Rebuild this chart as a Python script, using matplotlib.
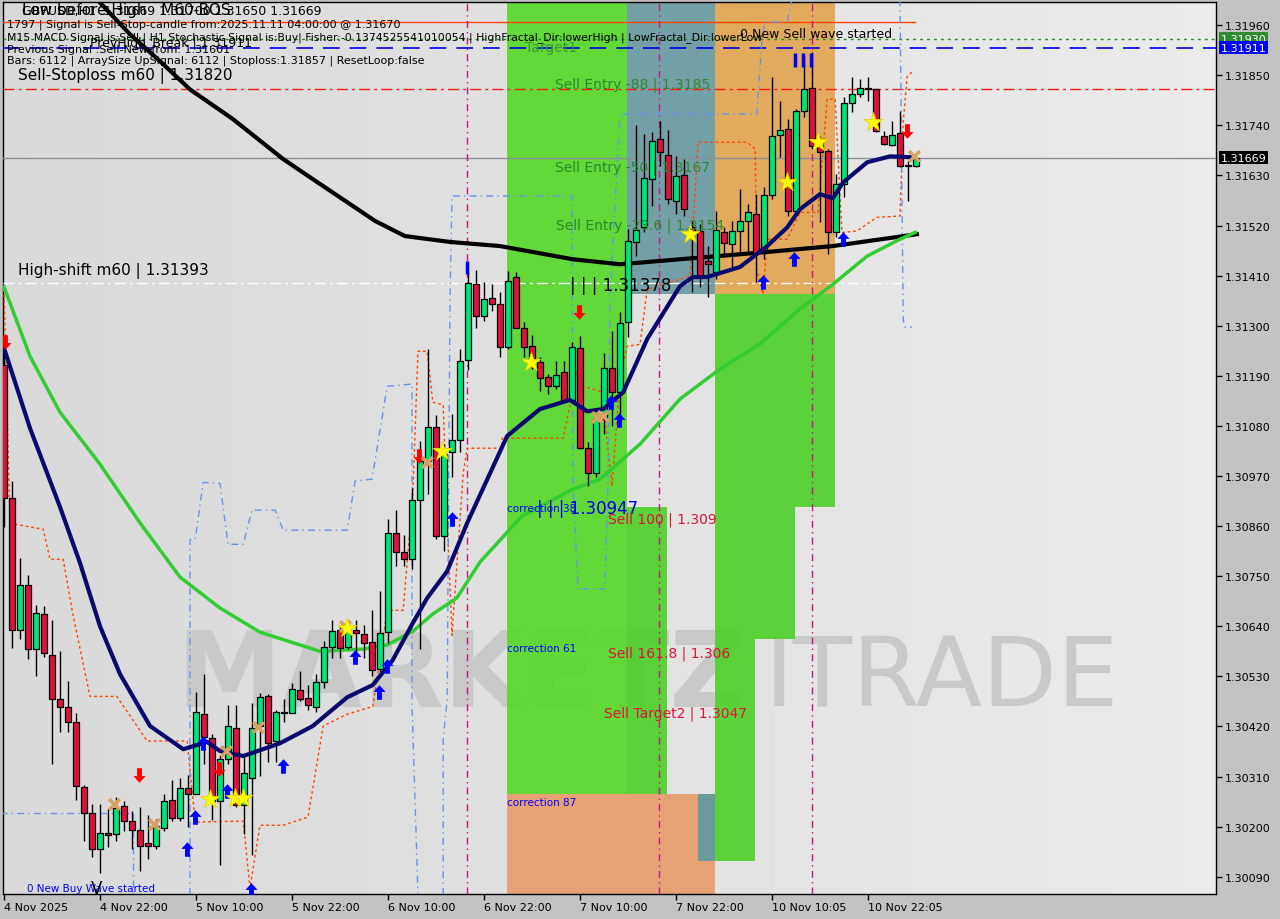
import numpy as np
import matplotlib
matplotlib.use("Agg")
import matplotlib.pyplot as plt
from matplotlib.patches import Rectangle
from matplotlib.path import Path

# ---- candles (H1), bar index = position ----
opens = [1.31213, 1.30921, 1.30631, 1.30730, 1.30590, 1.30667, 1.30577, 1.30480, 1.30462, 1.30429,
         1.30287, 1.30230, 1.30151, 1.30186, 1.30183, 1.30245, 1.30212, 1.30192, 1.30164, 1.30157,
         1.30197, 1.30258, 1.30219, 1.30284, 1.30271, 1.30447, 1.30394, 1.30256, 1.30348, 1.30416,
         1.30247, 1.30306, 1.30421, 1.30486, 1.30388, 1.30449, 1.30449, 1.30500, 1.30482, 1.30462,
         1.30517, 1.30594, 1.30631, 1.30594, 1.30631, 1.30623, 1.30605, 1.30546, 1.30627, 1.30844,
         1.30803, 1.30787, 1.30917, 1.31003, 1.31077, 1.30838, 1.31022, 1.31049, 1.31224, 1.31391,
         1.31321, 1.31361, 1.31347, 1.31253, 1.31407, 1.31295, 1.31255, 1.31220, 1.31187, 1.31167,
         1.31198, 1.31137, 1.31251, 1.31031, 1.30976, 1.31095, 1.31207, 1.31154, 1.31308, 1.31483,
         1.31516, 1.31622, 1.31710, 1.31675, 1.31574, 1.31631, 1.31516, 1.31508, 1.31442, 1.31418,
         1.31505, 1.31479, 1.31508, 1.31530, 1.31545, 1.31466, 1.31587, 1.31718, 1.31732, 1.31552,
         1.31771, 1.31822, 1.31697, 1.31683, 1.31505, 1.31611, 1.31789, 1.31809, 1.31820, 1.31820,
         1.31716, 1.31697, 1.31723, 1.31650, 1.31650]
highs = [1.31260, 1.30959, 1.30789, 1.30752, 1.30686, 1.30684, 1.30653, 1.30585, 1.30519, 1.30449,
         1.30291, 1.30249, 1.30249, 1.30238, 1.30265, 1.30256, 1.30234, 1.30243, 1.30225, 1.30216,
         1.30271, 1.30302, 1.30306, 1.30313, 1.30495, 1.30535, 1.30403, 1.30357, 1.30467, 1.30467,
         1.30352, 1.30471, 1.30493, 1.30491, 1.30456, 1.30480, 1.30515, 1.30541, 1.30511, 1.30535,
         1.30607, 1.30653, 1.30642, 1.30653, 1.30653, 1.30642, 1.30675, 1.30717, 1.30875, 1.30895,
         1.30840, 1.30943, 1.31047, 1.31248, 1.31104, 1.31040, 1.31106, 1.31248, 1.31420, 1.31422,
         1.31396, 1.31391, 1.31374, 1.31420, 1.31418, 1.31308, 1.31279, 1.31231, 1.31194, 1.31222,
         1.31222, 1.31264, 1.31277, 1.31044, 1.31106, 1.31240, 1.31288, 1.31330, 1.31512, 1.31740,
         1.31721, 1.31725, 1.31749, 1.31729, 1.31672, 1.31666, 1.31530, 1.31523, 1.31475, 1.31552,
         1.31516, 1.31530, 1.31600, 1.31567, 1.31589, 1.31604, 1.31846, 1.31793, 1.31754, 1.31776,
         1.31892, 1.31901, 1.31716, 1.31688, 1.31633, 1.31802, 1.31846, 1.31841, 1.31846, 1.31820,
         1.31727, 1.31749, 1.31771, 1.31661, 1.31672]
lows = [1.30858, 1.30592, 1.30612, 1.30568, 1.30530, 1.30572, 1.30337, 1.30407, 1.30407, 1.30258,
        1.30168, 1.30133, 1.30098, 1.30155, 1.30168, 1.30190, 1.30151, 1.30102, 1.30129, 1.30151,
        1.30190, 1.30212, 1.30212, 1.30199, 1.30271, 1.30337, 1.30214, 1.30115, 1.30337, 1.30243,
        1.30183, 1.30137, 1.30311, 1.30341, 1.30341, 1.30429, 1.30449, 1.30476, 1.30456, 1.30451,
        1.30504, 1.30570, 1.30570, 1.30590, 1.30570, 1.30570, 1.30531, 1.30539, 1.30603, 1.30772,
        1.30772, 1.30765, 1.30590, 1.30930, 1.30831, 1.30805, 1.30967, 1.31022, 1.31202, 1.31295,
        1.31310, 1.31332, 1.31231, 1.31248, 1.31295, 1.31231, 1.31205, 1.31156, 1.31150, 1.31161,
        1.31132, 1.31132, 1.31029, 1.30948, 1.30967, 1.31062, 1.31080, 1.31091, 1.31275, 1.31453,
        1.31505, 1.31563, 1.31650, 1.31567, 1.31545, 1.31541, 1.31374, 1.31385, 1.31363, 1.31402,
        1.31457, 1.31424, 1.31457, 1.31457, 1.31396, 1.31446, 1.31578, 1.31670, 1.31541, 1.31549,
        1.31758, 1.31688, 1.31527, 1.31457, 1.31494, 1.31582, 1.31769, 1.31802, 1.31793, 1.31725,
        1.31697, 1.31694, 1.31648, 1.31573, 1.31648]
closes = [1.30921, 1.30631, 1.30730, 1.30590, 1.30669, 1.30581, 1.30480, 1.30462, 1.30429, 1.30289,
          1.30230, 1.30151, 1.30186, 1.30181, 1.30240, 1.30212, 1.30192, 1.30157, 1.30157, 1.30201,
          1.30256, 1.30219, 1.30284, 1.30271, 1.30451, 1.30397, 1.30256, 1.30348, 1.30421, 1.30247,
          1.30317, 1.30416, 1.30484, 1.30383, 1.30451, 1.30451, 1.30502, 1.30480, 1.30467, 1.30517,
          1.30594, 1.30629, 1.30592, 1.30627, 1.30625, 1.30603, 1.30544, 1.30625, 1.30844, 1.30803,
          1.30787, 1.30917, 1.31003, 1.31077, 1.30838, 1.31018, 1.31049, 1.31222, 1.31393, 1.31321,
          1.31358, 1.31347, 1.31253, 1.31398, 1.31295, 1.31253, 1.31220, 1.31185, 1.31167, 1.31192,
          1.31134, 1.31253, 1.31031, 1.30976, 1.31095, 1.31207, 1.31154, 1.31306, 1.31486, 1.31510,
          1.31624, 1.31705, 1.31681, 1.31578, 1.31628, 1.31556, 1.31508, 1.31407, 1.31435, 1.31510,
          1.31481, 1.31508, 1.31530, 1.31550, 1.31459, 1.31587, 1.31716, 1.31729, 1.31552, 1.31771,
          1.31820, 1.31694, 1.31681, 1.31505, 1.31611, 1.31789, 1.31809, 1.31822, 1.31817, 1.31727,
          1.31699, 1.31718, 1.31650, 1.31652, 1.31669]

tick_bars = [0, 12, 24, 36, 48, 60, 72, 84, 96, 108]
tick_labels = ["4 Nov 2025", "4 Nov 22:00", "5 Nov 10:00", "5 Nov 22:00", "6 Nov 10:00",
               "6 Nov 22:00", "7 Nov 10:00", "7 Nov 22:00", "10 Nov 10:05", "10 Nov 22:05"]
price_ticks = [1.30090, 1.30200, 1.30310, 1.30420, 1.30530, 1.30640, 1.30750, 1.30860, 1.30970,
               1.31080, 1.31190, 1.31300, 1.31410, 1.31520, 1.31630, 1.31740, 1.31850, 1.31960]

# ---- moving averages (read at anchor bars) ----
ma_slow_x = [11.6, 15.75, 19.5, 23.25, 28.6, 34.9, 38.6, 46.4, 50.1, 55.75, 62, 71.1, 77, 84.5, 95.4, 103.6, 114.1]
ma_slow_y = [1.32017, 1.31940, 1.31881, 1.31819, 1.31754, 1.31666, 1.31622, 1.31530, 1.31497, 1.31484,
             1.31475, 1.31446, 1.31435, 1.31446, 1.31462, 1.31475, 1.31501]
ma_fast_x = [0, 3.25, 7, 9.5, 12, 14.5, 18.25, 22.4, 25.4, 27, 29.9, 34.5, 38.6, 42.9, 46.1, 48.6, 51.1,
             52.9, 55.4, 57.9, 62.9, 67, 70.75, 72.9, 74.9, 77.4, 80.4, 84.5, 86.1, 87.9, 92, 95.4,
             97.9, 99.5, 102, 103.6, 104.9, 107.9, 110.75, 113.6]
ma_fast_y = [1.31251, 1.31075, 1.30902, 1.30779, 1.30640, 1.30535, 1.30421, 1.30370, 1.30386, 1.30366,
             1.30355, 1.30383, 1.30421, 1.30484, 1.30511, 1.30566, 1.30647, 1.30702, 1.30761, 1.30867,
             1.31058, 1.31117, 1.31137, 1.31112, 1.31117, 1.31154, 1.31271, 1.31387, 1.31407, 1.31407,
             1.31429, 1.31475, 1.31516, 1.31556, 1.31589, 1.31580, 1.31615, 1.31659, 1.31672, 1.31670]
ma_mid_x = [0, 3.25, 7, 12, 17, 22, 27, 32, 39.5, 44.9, 47.9, 51.1, 53.6, 56.6, 59.5, 64.75, 71.1,
            74.5, 79.5, 84.5, 89.5, 94.5, 99.5, 103.6, 107.9, 112, 113.9]
ma_mid_y = [1.31385, 1.31233, 1.31110, 1.30996, 1.30867, 1.30748, 1.30680, 1.30627, 1.30585, 1.30590,
            1.30599, 1.30629, 1.30667, 1.30702, 1.30781, 1.30882, 1.30941, 1.30963, 1.31040, 1.31139,
            1.31205, 1.31260, 1.31337, 1.31391, 1.31453, 1.31490, 1.31505]

# ---- orange stepped band ----
band_x = [0, 0.75, 4.9, 5.75, 7.4, 8.6, 10.75, 14.1, 17.9, 22.9, 23.9, 29.9, 30.75, 32, 34.9, 38, 39.9,
          42.9, 46.1, 47.9, 49.9, 51.1, 51.75, 52.9, 53.6, 54.9, 55.4, 56, 57.4, 57.9, 62.25, 62.25,
          69.9, 71.6, 72.4, 74.9, 75.4, 76, 77, 77.9, 79.5, 80.4, 85.75, 86.75, 92.9, 93.9, 94.1,
          94.9, 95.4, 97.9, 99.5, 101.75, 102.9, 103.9, 104.5, 104.75, 106.6, 109.1, 112, 112.4,
          112.9, 113.5]
band_y = [1.31380, 1.30866, 1.30853, 1.30787, 1.30787, 1.30667, 1.30486, 1.30486, 1.30388, 1.30388,
          1.30210, 1.30212, 1.30065, 1.30203, 1.30203, 1.30221, 1.30421, 1.30447, 1.30464, 1.30675,
          1.30675, 1.30930, 1.31244, 1.31244, 1.31132, 1.31126, 1.30875, 1.30620, 1.30976, 1.31031,
          1.31031, 1.31053, 1.31053, 1.31198, 1.31167, 1.31154, 1.31044, 1.30948, 1.31183, 1.31255,
          1.31259, 1.31380, 1.31409, 1.31703, 1.31703, 1.31688, 1.31424, 1.31369, 1.31490, 1.31490,
          1.31549, 1.31549, 1.31798, 1.31798, 1.31585, 1.31505, 1.31508, 1.31538, 1.31541, 1.31747,
          1.31848, 1.31857]

# ---- blue dash-dot fractal channels ----
chan1_x = [-0.5, 16.1, 16.1]
chan1_y = [1.30230, 1.30230, 1.30050]
chan2_x = [23.25, 23.25, 23.9, 24.9, 27, 28, 29.9, 31, 33.9, 34.9, 42.9, 43.9, 46, 47.9, 51, 51, 51.75]
chan2_y = [1.30050, 1.30831, 1.30831, 1.30956, 1.30954, 1.30820, 1.30820, 1.30895, 1.30895, 1.30851,
           1.30851, 1.30959, 1.30963, 1.31167, 1.31172, 1.30467, 1.30050]
chan3_x = [54.9, 54.9, 55.4, 55.75, 56, 71, 71.1, 71.75, 75.1, 75.5, 75.75, 77, 94.1, 94.75, 95.1, 97.9, 98.5]
chan3_y = [1.30050, 1.30392, 1.30480, 1.31358, 1.31585, 1.31585, 1.30963, 1.30722, 1.30722, 1.30963,
           1.31358, 1.31765, 1.31765, 1.31929, 1.31967, 1.31967, 1.32017]
chan4_x = [112, 112.4, 112.6, 113.5]
chan4_y = [1.32017, 1.31314, 1.31297, 1.31297]

# ---- signal marks ----
star_x = [25.75, 28.9, 29.9, 42.9, 54.75, 65.9, 85.75, 97.9, 101.75, 108.6]
star_y = [1.30260, 1.30263, 1.30263, 1.30636, 1.31024, 1.31220, 1.31501, 1.31615, 1.31703, 1.31747]
buy_x = [22.9, 23.9, 24.9, 27.9, 30.9, 34.9, 43.9, 46.9, 47.9, 56, 75.9, 76.9, 94.9, 98.75, 104.9]
buy_y = [1.30151, 1.30221, 1.30383, 1.30278, 1.30061, 1.30333, 1.30572, 1.30495, 1.30552, 1.30875,
         1.31132, 1.31093, 1.31396, 1.31446, 1.31490]
sell_x = [0.1, 16.9, 26.9, 51.9, 71.9, 112.9]
sell_y = [1.31264, 1.30313, 1.30326, 1.31014, 1.31330, 1.31727]
cross_x = [13.75, 18.75, 27.75, 31.75, 42.6, 52.9, 74.1, 74.9, 113.75]
cross_y = [1.30249, 1.30205, 1.30366, 1.30418, 1.30640, 1.31000, 1.31099, 1.31101, 1.31672]

# ---- zones: (bar0, bar1, price_lo, price_hi, colour) ----
zone_x0 = [62.9, 77.9, 88.9, 62.9, 88.9, 88.9, 88.9, 86.75, 77.9]
zone_x1 = [77.9, 88.9, 103.9, 88.9, 103.9, 98.9, 93.9, 88.9, 82.9]
zone_lo = [1.30272, 1.31369, 1.31369, 1.29900, 1.30902, 1.30612, 1.30124, 1.30124, 1.30272]
zone_hi = [1.32100, 1.32100, 1.32100, 1.30272, 1.31369, 1.30902, 1.30612, 1.30272, 1.30902]
zone_col = ["#57d82b", "#6a9aa2", "#e1a552", "#e79d6b", "#4fd02c", "#4fd02c", "#4fd02c", "#5f9aa0", "#4fd02c"]

# ---- key levels ----
stop_level = 1.31820
high_shift = 1.31393
last_price = 1.31669
green_level = 1.31930
blue_level = 1.31911
top_level = 1.31967
sep_bars = [57.9, 81.9, 101.0]

W, H = 1280, 920
fig = plt.figure(figsize=(W / 100, H / 100), dpi=100, facecolor="#c3c3c3")
ax = fig.add_axes([3 / W, 25 / H, 1213 / W, 892 / H])
ax.set_facecolor("#dfdfdf")
ax.set_xlim(-0.125, 151.5)
ax.set_ylim(1.30052, 1.32011)


def px(x, y):
    return x / W, 1 - y / H


# faint background gradient
grad = np.linspace(0.85, 0.92, 256).reshape(1, -1)
ax.imshow(grad, extent=[-0.125, 151.5, 1.30052, 1.32011], aspect="auto", cmap="gray",
          vmin=0, vmax=1, zorder=0)

# watermark
ax.text(21.5, 1.30465, "MARKETZ", fontsize=76, fontweight="bold", color="#c9c9c9",
        ha="left", va="baseline", zorder=1)
ax.text(95, 1.30465, "ITRADE", fontsize=70, color="#c9c9c9", ha="left", va="baseline",
        family=["Liberation Sans Narrow", "DejaVu Sans"], zorder=1)

for x0, x1, lo, hi, c in zip(zone_x0, zone_x1, zone_lo, zone_hi, zone_col):
    ax.add_patch(Rectangle((x0, lo), x1 - x0, hi - lo, facecolor=c, edgecolor="none",
                           alpha=0.92, zorder=2))

# level lines
ax.axhline(stop_level, color="#ff1a1a", lw=1, ls=(0, (8, 3, 2, 3)), zorder=3)
ax.plot([-0.125, 113.9], [top_level] * 2, color="#ff4500", lw=1, zorder=3)
ax.axhline(green_level, color="#228b22", lw=1, ls=(0, (2, 3)), zorder=3)
ax.axhline(blue_level, color="#0000e0", lw=1.2, ls=(0, (10, 6)), zorder=3)
ax.axhline(last_price, color="#8a8f98", lw=1, zorder=3)
ax.plot([-0.125, 113.9], [high_shift] * 2, color="white", lw=1, ls=(0, (8, 3, 2, 3)), zorder=3)
for b in sep_bars:
    ax.axvline(b, color="#c71585", lw=1, ls=(0, (5, 3, 1, 3)), zorder=3)

ax.plot(band_x, band_y, color="#ff4500", lw=1, ls=(0, (2, 2)), zorder=4)
for cx, cy in [(chan1_x, chan1_y), (chan2_x, chan2_y), (chan3_x, chan3_y), (chan4_x, chan4_y)]:
    ax.plot(cx, cy, color="#6495ed", lw=1, ls=(0, (5, 3, 1, 3)), zorder=4)

ax.plot(ma_slow_x, ma_slow_y, color="black", lw=3, zorder=5)
ax.plot(ma_mid_x, ma_mid_y, color="#32cd32", lw=2.5, zorder=5)

# candles
idx = np.arange(len(opens))
o = np.array(opens); c = np.array(closes)
ax.vlines(idx, lows, highs, color="black", lw=1, zorder=6)
up = c >= o
body = np.where(np.abs(c - o) < 0.00003, 0.00003, c - o)
ax.bar(idx[up], body[up], bottom=o[up], width=0.7, color="#00e676", edgecolor="black",
       linewidth=0.9, zorder=7)
ax.bar(idx[~up], body[~up], bottom=o[~up], width=0.7, color="#dc143c", edgecolor="black",
       linewidth=0.9, zorder=7)

ax.plot(ma_fast_x, ma_fast_y, color="#0a0a6e", lw=3, zorder=8)

# markers
up_arrow = Path([(-0.5, 0.05), (0, 0.6), (0.5, 0.05), (0.2, 0.05), (0.2, -0.6), (-0.2, -0.6),
                 (-0.2, 0.05), (-0.5, 0.05)])
down_arrow = Path([(x, -y) for x, y in up_arrow.vertices])
ax.scatter(buy_x, buy_y, marker=up_arrow, s=110, color="#0000ff", zorder=9, linewidths=0)
ax.scatter(sell_x, sell_y, marker=down_arrow, s=110, color="#ff0000", zorder=9, linewidths=0)
ax.scatter(cross_x, cross_y, marker="x", s=60, color="#d8a062", linewidths=2.5, zorder=9)
ax.scatter(star_x, star_y, marker="*", s=210, color="#ffff00", edgecolors="#e0d000",
           linewidths=0.5, zorder=10)

# blue ticks
ax.vlines([98.9, 99.9, 100.9], 1.31868, 1.31900, color="#0000ff", lw=2.5, zorder=9)
ax.vlines([57.9], 1.31414, 1.31442, color="#0000ff", lw=2.5, zorder=9)

# chart labels
ax.text(70.75, 1.31390, "| | | 1.31378", fontsize=12, color="black", va="center", zorder=11)
ax.text(62.9, 1.30900, "correction 38", fontsize=7.5, color="#0000ff", va="center", zorder=11)
ax.text(66.6, 1.30900, "| | | 1.30947", fontsize=12, color="#0000dd", va="center", zorder=11)
ax.text(75.5, 1.30877, "Sell 100 | 1.309", fontsize=10, color="#dc143c", va="center", zorder=11)
ax.text(62.9, 1.30592, "correction 61", fontsize=7.5, color="#0000ff", va="center", zorder=11)
ax.text(75.5, 1.30581, "Sell 161.8 | 1.306", fontsize=10, color="#dc143c", va="center", zorder=11)
ax.text(75.0, 1.30451, "Sell Target2 | 1.3047", fontsize=10, color="#dc143c", va="center", zorder=11)
ax.text(62.9, 1.30254, "correction 87", fontsize=7.5, color="#0000ff", va="center", zorder=11)
ax.text(2.9, 1.30065, "0 New Buy Wave started", fontsize=7.5, color="#0000ff", va="center", zorder=11)
ax.text(10.8, 1.30065, "V", fontsize=12, color="black", va="center", zorder=11)
ax.text(68.9, 1.31831, "Sell Entry -88 | 1.3185", fontsize=10, color="#2a8a2a", va="center", zorder=11)
ax.text(68.9, 1.31650, "Sell Entry -50 | 1.3167", fontsize=10, color="#2a8a2a", va="center", zorder=11)
ax.text(69.0, 1.31521, "Sell Entry -23.6 | 1.3154", fontsize=10, color="#2a8a2a", va="center", zorder=11)
ax.text(65.1, 1.31912, "Target1", fontsize=10, color="#3a9a3a", va="center", zorder=11)
ax.text(92.0, 1.31942, "0 New Sell wave started", fontsize=9, color="black", va="center", zorder=11)

# header text (screen positions)
fig.text(*px(22, 12), "GBPUSD,H1  1.31669 1.31700 1.31650 1.31669", fontsize=9, color="black", va="center")
fig.text(*px(22, 11), "Low before High   M60-BOS", fontsize=11, color="black", va="center")
fig.text(*px(7, 25), "1797 | Signal is Sell-Stop-candle from:2025.11.11 04:00:00 @ 1.31670",
         fontsize=8, color="black", va="center")
fig.text(*px(7, 38), "M15 MACD Signal is:Sell | H1 Stochastic Signal is:Buy| Fisher:-0.1374525541010054"
         " | HighFractal_Dir:lowerHigh | LowFractal_Dir:lowerLow", fontsize=7.8, color="black", va="center")
fig.text(*px(90, 43), "PrevHigh_Break | 1.31911", fontsize=9, color="black", va="center")
fig.text(*px(7, 50), "Previous Signal :Sell-New from: 1.31601", fontsize=8, color="black", va="center")
fig.text(*px(7, 61), "Bars: 6112 | ArraySize UpSignal: 6112 | Stoploss:1.31857 | ResetLoop:false",
         fontsize=8, color="black", va="center")
fig.text(*px(18, 76), "Sell-Stoploss m60 | 1.31820", fontsize=11, color="black", va="center")
fig.text(*px(18, 271), "High-shift m60 | 1.31393", fontsize=11, color="black", va="center")

# axes styling
ax.yaxis.tick_right()
ax.set_yticks(price_ticks)
ax.set_yticklabels([f"{p:.5f}" for p in price_ticks], fontsize=8)
ax.set_xticks(tick_bars)
ax.set_xticklabels(tick_labels, fontsize=8, ha="left")
ax.tick_params(axis="both", direction="out", length=4, width=1, colors="black", pad=2)
for s in ax.spines.values():
    s.set_color("black")
    s.set_linewidth(1)

for lvl, fc in [(green_level, "#2e8b2e"), (blue_level, "#0000ff"), (last_price, "black")]:
    ax.text(1.004, lvl, f"{lvl:.5f}", transform=ax.get_yaxis_transform(), fontsize=8,
            color="white", va="center", ha="left",
            bbox=dict(boxstyle="square,pad=0.15", fc=fc, ec="none"), zorder=20)

fig.savefig("out.png", dpi=100, facecolor=fig.get_facecolor())
